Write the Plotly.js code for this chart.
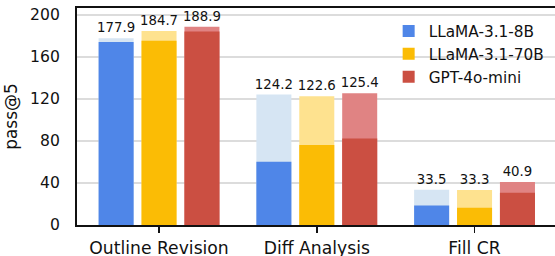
<!DOCTYPE html>
<html><head><meta charset="utf-8">
<script src="https://cdn.plot.ly/plotly-3.0.1.min.js"></script>
<style>body{margin:0;padding:0;background:#fff}#chart{width:555px;height:256px}</style>
</head><body><div id="chart"></div>
<script>
const categories = ['Outline Revision', 'Diff Analysis', 'Fill CR'];
const seriesNames = ['LLaMA-3.1-8B', 'LLaMA-3.1-70B', 'GPT-4o-mini'];
const total8b = [177.9, 124.2, 33.5];
const base8b = [174.4, 60.3, 18.5];
const total70b = [184.7, 122.6, 33.3];
const base70b = [175.4, 76.3, 16.4];
const totalGpt = [188.9, 125.4, 40.9];
const baseGpt = [184.3, 82.3, 30.7];
const yTicks = [0, 40, 80, 120, 160, 200];

const solidColors = ['#4f86e8', '#fbbc05', '#cb4f42'];
const lightColors = ['#d6e5f3', '#fee28f', '#e08383'];
const totals = [total8b, total70b, totalGpt];
const bases = [base8b, base70b, baseGpt];
const W = 0.222, pitch = 0.272;
const font = 'DejaVu Sans, sans-serif';

const traces = [];
for (let i = 0; i < 3; i++) {
  const off = (i - 1) * pitch - W / 2;
  traces.push({
    type: 'bar', x: categories, y: totals[i], width: W, offset: off,
    marker: {color: lightColors[i], line: {width: 0}},
    text: totals[i].map(v => v.toFixed(1)), textposition: 'outside',
    constraintext: 'none',
    textfont: {family: font, size: 13.3, color: '#111'}, cliponaxis: false,
    showlegend: false, hoverinfo: 'skip'
  });
  traces.push({
    type: 'bar', x: categories, y: bases[i], width: W, offset: off,
    marker: {color: solidColors[i], line: {width: 0}},
    name: seriesNames[i], textposition: 'none'
  });
}

const layout = {
  width: 555, height: 256,
  margin: {l: 77, r: 0, t: 8, b: 31},
  barmode: 'overlay',
  paper_bgcolor: '#fff', plot_bgcolor: '#fff',
  font: {family: font, color: '#111'},
  showlegend: true,
  legend: {x: 0.652, y: 0.97, xanchor: 'left', yanchor: 'top',
    font: {family: font, size: 15.3, color: '#111'}, bgcolor: 'rgba(0,0,0,0)',
    tracegroupgap: 0},
  xaxis: {type: 'category', range: [-0.52, 2.51], showline: true, mirror: true,
    linecolor: '#111', linewidth: 2, ticks: 'outside', ticklen: 6, tickwidth: 1.5,
    tickcolor: '#111', showgrid: false, tickfont: {family: font, size: 17.2, color: '#111'}},
  yaxis: {range: [0, 206.7], tickvals: yTicks, showline: true, linecolor: '#111',
    linewidth: 2, ticks: '', showgrid: true, gridcolor: '#dcdcdc', gridwidth: 1.5,
    zeroline: false, ticklabelstandoff: 12,
    tickfont: {family: font, size: 15.6, color: '#111'},
    title: {text: 'pass@5', font: {family: font, size: 17, color: '#111'}, standoff: 8}}
};
Plotly.newPlot('chart', traces, layout, {displayModeBar: false, staticPlot: true});
</script></body></html>
